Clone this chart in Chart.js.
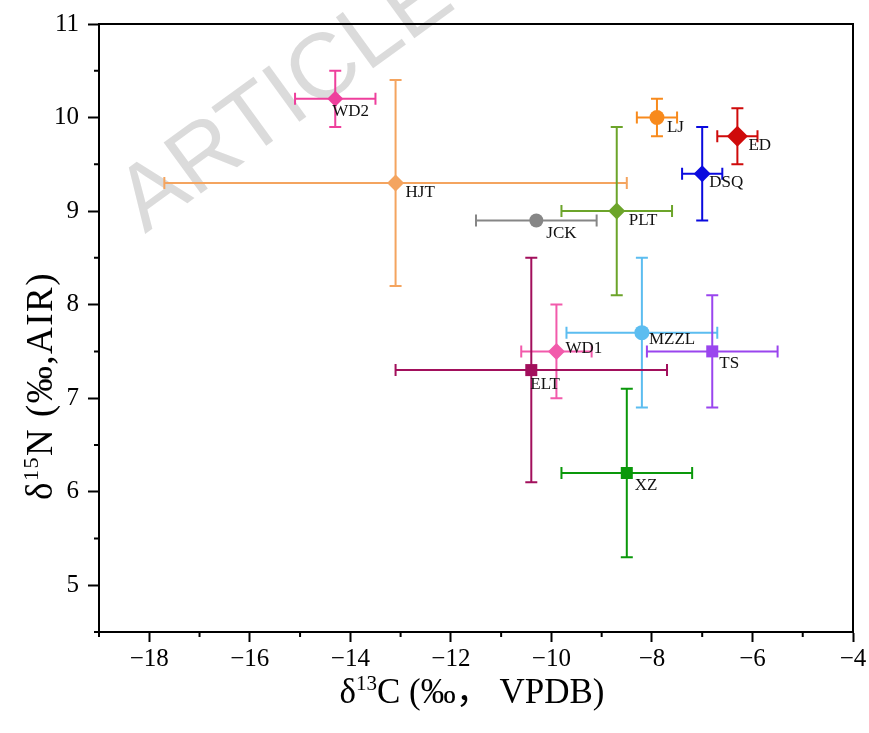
<!DOCTYPE html>
<html>
<head>
<meta charset="utf-8">
<script src="https://cdn.jsdelivr.net/npm/chart.js@4.4.1/dist/chart.umd.min.js"></script>
<style>
  html, body { margin: 0; padding: 0; background: #fff; }
  #wrap { width: 869px; height: 733px; position: relative; }
</style>
</head>
<body>
<div id="wrap"><canvas id="isoChart"></canvas></div>
<script>
// values
const sites = ["WD2", "HJT", "LJ", "ED", "DSQ", "PLT", "JCK", "MZZL", "WD1", "ELT", "TS", "XZ"];
const d13C = [-14.3, -13.1, -7.9, -6.3, -7.0, -8.7, -10.3, -8.2, -9.9, -10.4, -6.8, -8.5];
const d15N = [10.2, 9.3, 10.0, 9.8, 9.4, 9.0, 8.9, 7.7, 7.5, 7.3, 7.5, 6.2];
const sdC = [0.8, 4.6, 0.4, 0.4, 0.4, 1.1, 1.2, 1.5, 0.7, 2.7, 1.3, 1.3];
const sdN = [0.3, 1.1, 0.2, 0.3, 0.5, 0.9, 0, 0.8, 0.5, 1.2, 0.6, 0.9];
const xTicks = [-18, -16, -14, -12, -10, -8, -6, -4];
const yTicks = [5, 6, 7, 8, 9, 10, 11];

// styles
const colors = ["#EE3F9C", "#F4A45F", "#F88A1C", "#CF0A0A", "#0A0ADE", "#6CA42A",
                "#868686", "#5CBDF0", "#F25AAB", "#A20F5C", "#9A45EE", "#0A980A"];
const shapes = ["rectRot", "rectRot", "circle", "rectRot", "rectRot", "rectRot",
                "circle", "circle", "rectRot", "rect", "rect", "rect"];
const radii = [8, 8.5, 7.5, 10.5, 8.5, 8.5, 7, 7.5, 8.5, 8.5, 8.5, 8.5];
const labelOffsets = [[-3, 13], [10, 10], [10, 10], [11, 9], [7, 9], [12, 9],
                      [10, 13], [7, 7], [9, -3], [-1, 14], [7, 12], [8, 13]];

const SERIF = '"Liberation Serif", "Times New Roman", "Noto Sans CJK SC", serif';
const CAP = 6;

const fmt = v => (v < 0 ? "\u2212" : "") + Math.abs(v);

const watermark = {
    id: "watermark",
    beforeDraw(chart) {
        const ctx = chart.ctx;
        ctx.save();
        ctx.fillStyle = "#fff";
        ctx.fillRect(0, 0, chart.width, chart.height);
        ctx.translate(145, 234);
        ctx.rotate(-36 * Math.PI / 180);
        ctx.font = '92px "Liberation Sans", Arial, sans-serif';
        ctx.fillStyle = "rgba(210,210,210,0.8)";
        ctx.textBaseline = "alphabetic";
        ctx.fillText("ARTICLE IN PRESS", 0, 0);
        ctx.restore();
    }
};

const errorBars = {
    id: "errorBars",
    beforeDatasetsDraw(chart) {
        const { ctx, scales: { x, y } } = chart;
        ctx.save();
        ctx.lineWidth = 2;
        sites.forEach((s, i) => {
            const cx = x.getPixelForValue(d13C[i]);
            const cy = y.getPixelForValue(d15N[i]);
            ctx.strokeStyle = colors[i];
            ctx.beginPath();
            if (sdC[i] > 0) {
                const x0 = x.getPixelForValue(d13C[i] - sdC[i]);
                const x1 = x.getPixelForValue(d13C[i] + sdC[i]);
                ctx.moveTo(x0, cy); ctx.lineTo(x1, cy);
                ctx.moveTo(x0, cy - CAP); ctx.lineTo(x0, cy + CAP);
                ctx.moveTo(x1, cy - CAP); ctx.lineTo(x1, cy + CAP);
            }
            if (sdN[i] > 0) {
                const y0 = y.getPixelForValue(d15N[i] - sdN[i]);
                const y1 = y.getPixelForValue(d15N[i] + sdN[i]);
                ctx.moveTo(cx, y0); ctx.lineTo(cx, y1);
                ctx.moveTo(cx - CAP, y0); ctx.lineTo(cx + CAP, y0);
                ctx.moveTo(cx - CAP, y1); ctx.lineTo(cx + CAP, y1);
            }
            ctx.stroke();
        });
        ctx.restore();
    },
    afterDatasetsDraw(chart) {
        const { ctx, scales: { x, y } } = chart;
        ctx.save();
        ctx.font = "17px " + SERIF;
        ctx.fillStyle = "#111";
        ctx.textAlign = "left";
        ctx.textBaseline = "middle";
        sites.forEach((s, i) => {
            const cx = x.getPixelForValue(d13C[i]);
            const cy = y.getPixelForValue(d15N[i]);
            ctx.fillText(s, cx + labelOffsets[i][0], cy + labelOffsets[i][1]);
        });
        ctx.restore();
    }
};

// frame, minor ticks and axis titles with superscripts
function drawTitle(ctx, parts, cx, cy) {
    let w = 0;
    parts.forEach(p => { ctx.font = p.size + "px " + SERIF; w += ctx.measureText(p.t).width; });
    let px = cx - w / 2;
    parts.forEach(p => {
        ctx.font = p.size + "px " + SERIF;
        ctx.fillText(p.t, px, cy - (p.up || 0));
        px += ctx.measureText(p.t).width;
    });
}

const frame = {
    id: "frame",
    afterDraw(chart) {
        const { ctx, chartArea: a, scales: { x, y } } = chart;
        ctx.save();
        ctx.strokeStyle = "#000";
        ctx.lineWidth = 2;
        ctx.beginPath();
        ctx.moveTo(a.left, a.top); ctx.lineTo(a.right, a.top); ctx.lineTo(a.right, a.bottom);
        x.ticks.forEach(t => {
            if (!xTicks.includes(t.value)) {
                const px = x.getPixelForValue(t.value);
                ctx.moveTo(px, a.bottom); ctx.lineTo(px, a.bottom + 5);
            }
        });
        y.ticks.forEach(t => {
            if (!yTicks.includes(t.value)) {
                const py = y.getPixelForValue(t.value);
                ctx.moveTo(a.left - 5, py); ctx.lineTo(a.left, py);
            }
        });
        ctx.stroke();

        ctx.fillStyle = "#000";
        ctx.textBaseline = "alphabetic";
        drawTitle(ctx, [{ t: "\u03B4", size: 35 }, { t: "13", size: 21, up: 13 }, { t: "C (\u2030\uFF0C VPDB)", size: 35 }],
            (a.left + a.right) / 2 - 4, 703);
        ctx.translate(52, 386);
        ctx.rotate(-Math.PI / 2);
        ctx.letterSpacing = "1.5px";
        drawTitle(ctx, [{ t: "\u03B4", size: 37 }, { t: "15", size: 22, up: 14 }, { t: "N (\u2030,AIR)", size: 37 }], 0, 0);
        ctx.restore();
    }
};

const points = sites.map((s, i) => ({ x: d13C[i], y: d15N[i] }));

new Chart(document.getElementById("isoChart"), {
    type: "scatter",
    data: {
        datasets: [{
            data: points,
            pointStyle: shapes,
            pointRadius: radii,
            backgroundColor: colors,
            borderColor: colors,
            borderWidth: 0
        }]
    },
    options: {
        responsive: true,
        maintainAspectRatio: false,
        animation: false,
        layout: { padding: { top: 24, right: 16, left: 0, bottom: 0 } },
        plugins: { legend: { display: false }, tooltip: { enabled: false } },
        scales: {
            x: {
                type: "linear",
                min: -19, max: -4,
                afterFit: s => { s.height = 101; },
                ticks: {
                    stepSize: 1, autoSkip: false, maxRotation: 0, padding: 2,
                    color: "#000", font: { family: SERIF, size: 25 },
                    callback: v => xTicks.includes(v) ? fmt(v) : ""
                },
                grid: {
                    drawOnChartArea: false, tickLength: 10, tickWidth: 2,
                    tickColor: c => (c.tick && xTicks.includes(c.tick.value)) ? "#000" : "rgba(0,0,0,0)"
                },
                border: { color: "#000", width: 2 }
            },
            y: {
                type: "linear",
                min: 4.5, max: 11,
                afterFit: s => { s.width = 99; },
                ticks: {
                    stepSize: 0.5, autoSkip: false, padding: 9,
                    color: "#000", font: { family: SERIF, size: 25 },
                    callback: v => yTicks.includes(v) ? String(v) : ""
                },
                grid: {
                    drawOnChartArea: false, tickLength: 11, tickWidth: 2,
                    tickColor: c => (c.tick && yTicks.includes(c.tick.value)) ? "#000" : "rgba(0,0,0,0)"
                },
                border: { color: "#000", width: 2 }
            }
        }
    },
    plugins: [watermark, errorBars, frame]
});
</script>
</body>
</html>
